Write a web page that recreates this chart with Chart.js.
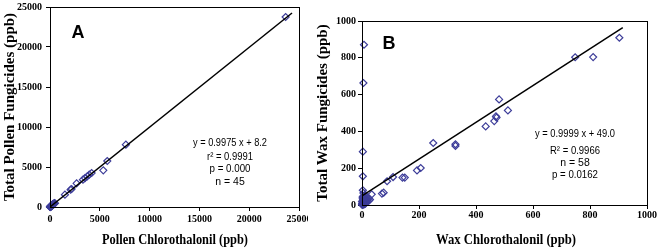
<!DOCTYPE html>
<html>
<head>
<meta charset="utf-8">
<script src="https://cdn.jsdelivr.net/npm/chart.js@4"></script>
<style>
    body { margin: 0; background: #fff; width: 661px; height: 252px; position: relative; overflow: hidden; }
    .panel { position: absolute; top: 0; height: 252px; }
    #panelA { left: 0; width: 308px; }
    #panelB { left: 313px; width: 348px; }
</style>
</head>
<body>
<div class="panel" id="panelA"><canvas id="chartA"></canvas></div>
<div class="panel" id="panelB"><canvas id="chartB"></canvas></div>
<script>
// Panel A: pollen (ppb)
const pollenX = [23660, 7620, 5750, 5350, 4180, 3940, 3740, 3510, 3310, 2670, 2170, 2070, 1500,
    0, 20, 40, 60, 80, 100, 120, 150, 180, 200, 250, 300, 350, 400, 30, 10,
    50, 70, 90, 110, 130, 160, 190, 220, 260, 280, 320, 380, 420, 450, 500, 240];
const pollenY = [23750, 7790, 5750, 4580, 4250, 4040, 3830, 3620, 3420, 2960, 2250, 2170, 1540,
    0, 25, 60, 50, 90, 110, 150, 140, 200, 230, 240, 320, 330, 420, 10, 30,
    80, 40, 120, 90, 180, 170, 150, 260, 290, 250, 380, 360, 400, 480, 470, 200];
const pollenFitX = [0, 24300];
const pollenFitY = [8.2, 24247];
const pollenTicks = [0, 5000, 10000, 15000, 20000, 25000];

// Panel B: wax (ppb)
const waxX = [903, 811, 748, 512, 481, 470, 472, 464, 434, 328, 328, 250, 206, 193, 150, 142, 109, 88, 76, 70, 34, 7, 5, 3, 3, 3, 5, 12,
    0, 1, 2, 3, 4, 5, 6, 7, 8, 9, 10, 12, 14, 15, 18, 20, 22, 25, 3, 5, 8, 2, 6, 10, 1, 4, 12, 0, 16, 9, 11, 28];
const waxY = [909, 804, 803, 514, 574, 482, 475, 456, 427, 330, 321, 337, 201, 188, 149, 149, 152, 129, 67, 62, 58, 871, 663, 290, 156, 80, 65, 52,
    5, 10, 3, 15, 8, 20, 12, 25, 18, 5, 30, 22, 15, 35, 28, 20, 40, 25, 45, 2, 10, 38, 50, 12, 0, 30, 8, 20, 25, 42, 15, 30];
const waxFitX = [0, 915];
const waxFitY = [49, 964];
const waxTicks = [0, 200, 400, 600, 800, 1000];

const markerColor = '#3d3d99';
const tickFont = { family: 'Liberation Serif', size: 10, weight: 'bold' };

function toPoints(xs, ys) {
    return xs.map((x, i) => ({ x: x, y: ys[i] }));
}

// frame around the plot area plus the free text (panel letter, statistics, x title)
const panelText = {
    id: 'panelText',
    afterDraw(chart, args, opts) {
        const ctx = chart.ctx;
        const a = chart.chartArea;
        const al = p => Math.round(p - 0.5) + 0.5;
        ctx.save();
        ctx.strokeStyle = '#000';
        ctx.lineWidth = 1;
        ctx.strokeRect(al(a.left), al(a.top), al(a.right) - al(a.left), al(a.bottom) - al(a.top));
        ctx.fillStyle = '#000';
        ctx.textAlign = 'center';
        ctx.textBaseline = 'middle';
        opts.labels.forEach(l => {
            ctx.font = l.font;
            if (l.maxWidth) ctx.fillText(l.text, l.x, l.y, l.maxWidth);
            else ctx.fillText(l.text, l.x, l.y);
        });
        ctx.restore();
    }
};

function makeChart(id, cfg) {
    return new Chart(document.getElementById(id), {
        type: 'scatter',
        data: {
            datasets: [{
                data: toPoints(cfg.fitX, cfg.fitY),
                showLine: true,
                borderColor: '#000',
                borderWidth: 1.5,
                pointRadius: 0
            }, {
                data: toPoints(cfg.xs, cfg.ys),
                pointStyle: 'rectRot',
                pointRadius: 3.5,
                borderColor: markerColor,
                backgroundColor: 'rgba(0,0,0,0)',
                pointBorderWidth: 1.2,
                clip: false
            }]
        },
        options: {
            responsive: true,
            maintainAspectRatio: false,
            animation: false,
            layout: { padding: { top: cfg.padTop, right: cfg.padRight, left: 0, bottom: 0 } },
            plugins: {
                legend: { display: false },
                tooltip: { enabled: false },
                panelText: { labels: cfg.labels }
            },
            scales: {
                x: {
                    type: 'linear',
                    min: cfg.ticks[0],
                    max: cfg.ticks[cfg.ticks.length - 1],
                    afterBuildTicks: s => { s.ticks = cfg.ticks.map(v => ({ value: v })); },
                    ticks: { font: tickFont, color: '#000', padding: cfg.xTickPad, maxRotation: 0, callback: v => String(v) },
                    grid: { drawOnChartArea: false, tickLength: 4, color: '#000' },
                    border: { color: '#000' },
                    afterFit: s => { s.height = cfg.xHeight; s.paddingLeft = 0; s.paddingRight = 0; }
                },
                y: {
                    type: 'linear',
                    min: cfg.ticks[0],
                    max: cfg.ticks[cfg.ticks.length - 1],
                    afterBuildTicks: s => { s.ticks = cfg.ticks.map(v => ({ value: v })); },
                    ticks: { font: tickFont, color: '#000', padding: cfg.yTickPad, callback: v => String(v) },
                    grid: { drawOnChartArea: false, tickLength: 4, color: '#000' },
                    border: { color: '#000' },
                    title: {
                        display: true,
                        text: cfg.yTitle,
                        color: '#000',
                        font: { family: 'Liberation Serif', size: 15, weight: 'bold' },
                        padding: { top: 1, bottom: 0 }
                    },
                    afterFit: s => { s.width = cfg.yWidth; s.paddingTop = 0; s.paddingBottom = 0; }
                }
            }
        },
        plugins: [panelText]
    });
}

const statFont = '10.5px "Liberation Sans"';
const titleFont = 'bold 15px "Liberation Serif"';

makeChart('chartA', {
    xs: pollenX, ys: pollenY, fitX: pollenFitX, fitY: pollenFitY, ticks: pollenTicks,
    yTitle: 'Total Pollen Fungicides (ppb)',
    padTop: 7, padRight: 9, xHeight: 45, yWidth: 50, xTickPad: 2, yTickPad: 4,
    labels: [
        { text: 'A', x: 78, y: 33, font: 'bold 18px "Liberation Sans"' },
        { text: 'y = 0.9975 x + 8.2', x: 230, y: 143, font: statFont, maxWidth: 74 },
        { text: 'r² = 0.9991', x: 230, y: 157, font: statFont, maxWidth: 46 },
        { text: 'p = 0.000', x: 230, y: 169, font: statFont, maxWidth: 41 },
        { text: 'n = 45', x: 230, y: 182, font: statFont, maxWidth: 30 },
        { text: 'Pollen Chlorothalonil (ppb)', x: 175, y: 240, font: titleFont, maxWidth: 146 }
    ]
});

makeChart('chartB', {
    xs: waxX, ys: waxY, fitX: waxFitX, fitY: waxFitY, ticks: waxTicks,
    yTitle: 'Total Wax Fungicides (ppb)',
    padTop: 21, padRight: 14, xHeight: 47, yWidth: 49, xTickPad: 0, yTickPad: 2,
    labels: [
        { text: 'B', x: 76, y: 44, font: 'bold 18px "Liberation Sans"' },
        { text: 'y = 0.9999 x + 49.0', x: 262, y: 134, font: statFont, maxWidth: 80 },
        { text: 'R² = 0.9966', x: 262, y: 151, font: statFont, maxWidth: 50 },
        { text: 'n = 58', x: 262, y: 163, font: statFont, maxWidth: 30 },
        { text: 'p = 0.0162', x: 262, y: 175, font: statFont, maxWidth: 46 },
        { text: 'Wax Chlorothalonil (ppb)', x: 193, y: 240, font: titleFont, maxWidth: 140 }
    ]
});
</script>
</body>
</html>
